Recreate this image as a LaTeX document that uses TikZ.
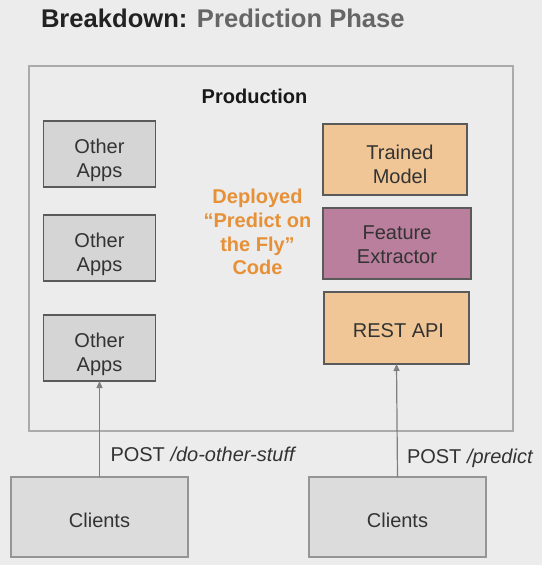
\documentclass[tikz,border=0pt]{standalone}
\usepackage{fontspec}
\setmainfont{Liberation Sans}
\usetikzlibrary{arrows.meta}
\definecolor{bgc}{HTML}{ECECEC}
\definecolor{prodline}{HTML}{ABABAB}
\definecolor{appfill}{HTML}{D5D5D5}
\definecolor{darkline}{HTML}{5A5A5A}
\definecolor{orfill}{HTML}{F1C696}
\definecolor{mauvefill}{HTML}{B97F9D}
\definecolor{clientfill}{HTML}{DCDCDC}
\definecolor{clientline}{HTML}{959595}
\definecolor{orangetext}{HTML}{E69138}
\definecolor{txt}{HTML}{333333}
\definecolor{arrowc}{HTML}{7F7F7F}
\definecolor{subtitle}{HTML}{666666}
\begin{document}
\begin{tikzpicture}[x=1pt,y=-1pt,
  every node/.style={inner sep=0pt,outer sep=0pt},
  bigtext/.style={font=\fontsize{20}{24}\selectfont,text=txt,align=center},
  boxtext/.style 2 args={label={[bigtext,xshift=#1]center:{#2}}},
  appbox/.style={draw=darkline,line width=1.8pt,fill=appfill,minimum width=112pt,minimum height=66pt},
  orbox/.style={draw=darkline,line width=1.8pt,fill=orfill,minimum height=71pt},
  mauvebox/.style={draw=darkline,line width=1.8pt,fill=mauvefill,minimum height=71pt},
  clientbox/.style={draw=clientline,line width=1.4pt,fill=clientfill,minimum width=177pt,minimum height=80pt},
  conn/.style={draw=arrowc,line width=1.2pt,-{Triangle[length=7pt,width=6pt]}},
  postlabel/.style={font=\fontsize{20}{24}\selectfont,text=txt,anchor=base west}]
\fill[bgc] (0,0) rectangle (542,565);
\useasboundingbox (0,0) rectangle (542,565);
% title
\node[anchor=base west,font=\fontsize{25.6}{30}\selectfont\bfseries] (title) at (41,27.5)
  {\textcolor[HTML]{222222}{Breakdown:} \textcolor{subtitle}{Prediction Phase}};
% production box
\node[draw=prodline,line width=1.4pt,minimum width=484pt,minimum height=365pt] (prod) at (271,248.5) {};
\node[anchor=base,font=\fontsize{20}{24}\selectfont\bfseries,text=black!90] (prodlabel) at (254.5,103.5) {Production};
% other apps
\node[appbox,label={[bigtext,yshift=-6pt]center:{Other\\Apps}}] (app1) at (99.5,154) {};
\node[appbox,label={[bigtext,yshift=-6pt]center:{Other\\Apps}}] (app2) at (99.5,248) {};
\node[appbox,label={[bigtext,yshift=-6pt]center:{Other\\Apps}}] (app3) at (99.5,348) {};
% deployed text
\node[font=\fontsize{20}{23.7}\selectfont\bfseries,text=orangetext,align=center] (deployed) at (257.5,232)
  {Deployed\\``Predict on\\the Fly''\\Code};
% right stack
\node[orbox,minimum width=144pt,label={[bigtext,xshift=5pt,yshift=-5pt]center:{Trained\\Model}}] (trained) at (395,159.5) {};
\node[mauvebox,minimum width=148pt,label={[bigtext,yshift=-1pt]center:{Feature\\Extractor}}] (feature) at (397,243.5) {};
\node[orbox,minimum width=145pt,minimum height=72pt,label={[bigtext,xshift=2pt,yshift=-3pt]center:{REST API}}] (rest) at (396.5,328) {};
% clients
\node[clientbox,label={[bigtext,yshift=-3pt]center:{Clients}}] (clientsL) at (99.5,517) {};
\node[clientbox,label={[bigtext,yshift=-3pt]center:{Clients}}] (clientsR) at (397.5,517) {};
% connectors
\draw[conn] (clientsL.north) -- (app3.south);
\draw[conn] (clientsR.north) -- (rest.south);
% labels
\node[postlabel] (lblL) at (110.5,461) {POST \textit{/do-other-stuff}};
\node[postlabel] (lblR) at (407,463) {POST \textit{/predict}};
\end{tikzpicture}
\end{document}
